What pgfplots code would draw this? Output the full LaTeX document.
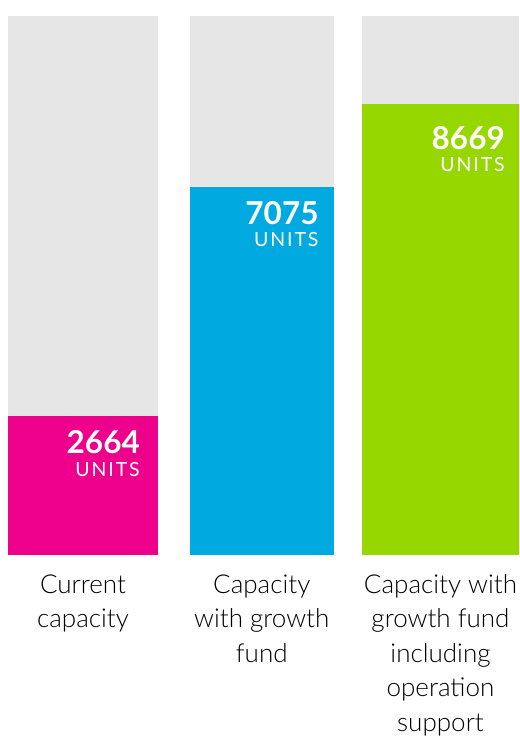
\documentclass[border=0pt]{standalone}
\usepackage{fontspec}
\setmainfont{Lato}
\newfontfamily\lightfont{Lato Light}
\newfontfamily\unitfont[LetterSpace=10]{Lato}
\usepackage{pgfplots}
\pgfplotsset{compat=1.18}
\definecolor{cpink}{RGB}{236,0,140}
\definecolor{cblue}{RGB}{0,169,224}
\definecolor{cgreen}{RGB}{151,215,0}
\definecolor{cgray}{RGB}{230,230,230}
\pgfplotsset{
  vlabel/.style={
    point meta=explicit symbolic,
    nodes near coords={{\fontsize{31.5}{24}\selectfont\bfseries\pgfplotspointmeta}\\[7pt]{\unitfont\fontsize{19.5}{24}\selectfont UNITS}},
  }
}
\begin{document}
\begin{tikzpicture}
\begin{axis}[
  name=ax,
  scale only axis,
  width=519pt, height=555pt,
  xmin=-0.4643, xmax=2.4392,
  ymin=0, ymax=10667,
  ybar, bar shift=0pt,
  axis line style={draw=none},
  tick style={draw=none},
  ytick=\empty,
  xtick={0,1,2},
  xticklabels={Current\\capacity, Capacity\\with growth\\fund, Capacity with\\growth fund\\including\\operation\\support},
  xticklabel style={align=center, font=\lightfont\fontsize{26}{34.5}\selectfont, anchor=north, inner sep=0pt, yshift=-15pt},
  clip=false,
]
% background bars
\addplot[fill=cgray, draw=none, bar width=0.839] coordinates {(0,10350)};
\addplot[fill=cgray, draw=none, bar width=0.806] coordinates {(1,10350)};
\addplot[fill=cgray, draw=none, bar width=0.878] coordinates {(2,10350)};
% value bars
\addplot[fill=cpink, draw=none, bar width=0.839, vlabel,
  nodes near coords style={anchor=north east, align=right, inner sep=0pt, text=white, xshift=57pt, yshift=-14pt}]
  coordinates {(0,2664) [2664]};
\addplot[fill=cblue, draw=none, bar width=0.806, vlabel,
  nodes near coords style={anchor=north east, align=right, inner sep=0pt, text=white, xshift=57pt, yshift=-14pt}]
  coordinates {(1,7075) [7075]};
\addplot[fill=cgreen, draw=none, bar width=0.878, vlabel,
  nodes near coords style={anchor=north east, align=right, inner sep=0pt, text=white, xshift=64.5pt, yshift=-22pt}]
  coordinates {(2,8669) [8669]};
\end{axis}
\pgfresetboundingbox
\path (ax.south west) ++(0pt,-186pt) rectangle (ax.north east);
\end{tikzpicture}
\end{document}
